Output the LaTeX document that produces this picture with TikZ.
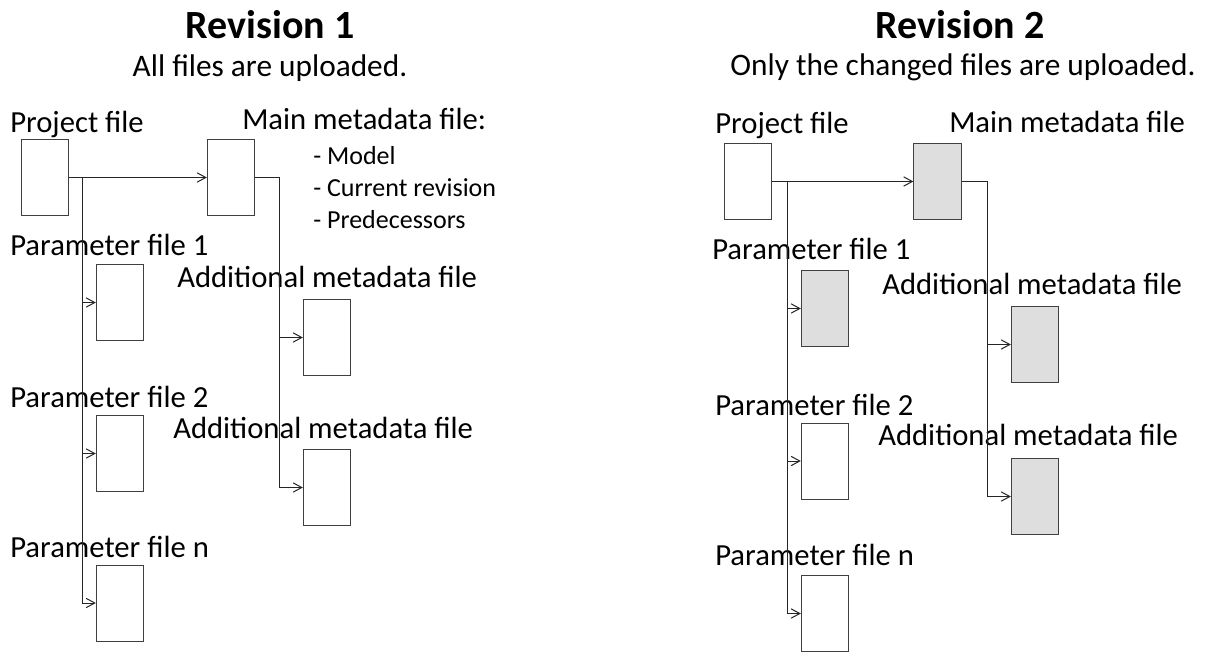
\documentclass[tikz,border=0pt]{standalone}
\usepackage{fontspec}
\setmainfont{Carlito}
\usetikzlibrary{arrows.meta}

\tikzset{
  filebox/.style={draw=black!75, line width=0.75pt, minimum width=35.5pt, minimum height=57pt, inner sep=0pt},
  changed/.style={filebox, fill=black!13},
  link/.style={line width=0.75pt, draw=black!85, -{Straight Barb[length=6.5pt,width=7pt]}},
  lbl/.style={anchor=base west, inner sep=0pt, font=\fontsize{23}{27}\selectfont},
  item/.style={anchor=base west, inner sep=0pt, font=\fontsize{19.5}{23}\selectfont},
  title/.style={anchor=base, inner sep=0pt, font=\fontsize{30}{35}\selectfont\bfseries},
  subtitle/.style={anchor=base, inner sep=0pt, font=\fontsize{23.5}{28}\selectfont}
}

\begin{document}
\begin{tikzpicture}[x=0.75pt,y=-0.75pt]
  \useasboundingbox (0,0) rectangle (1207,654);
  % Revision 1: everything uploaded
  \begin{scope}
    \node[title] (l-title) at (270,38) {Revision 1};
    \node[subtitle] (l-sub) at (270,76) {All files are uploaded.};
    \node[lbl] (l-projlbl) at (10,132) {Project file};
    \node[lbl] (l-mainlbl) at (242,129) {Main metadata file:};
    \node[item] (l-it1) at (313,164) {- Model};
    \node[item] (l-it2) at (313,196) {- Current revision};
    \node[item] (l-it3) at (313,228) {- Predecessors};
    \node[filebox] (l-proj) at (45,177.5) {};
    \node[filebox] (l-main) at (231,177.5) {};
    \foreach \p/\y in {1/302.5,2/453.5,n/603} {
      \node[filebox] (l-p\p) at (120,\y) {};
    }
    \node[lbl] (l-p1lbl) at (10,255) {Parameter file 1};
    \node[lbl] (l-p2lbl) at (10,407) {Parameter file 2};
    \node[lbl] (l-pnlbl) at (10,557) {Parameter file n};
    \node[filebox] (l-a1) at (327,337.5) {};
    \node[filebox] (l-a2) at (327,487.5) {};
    \node[lbl] (l-a1lbl) at (177,287) {Additional metadata file};
    \node[lbl] (l-a2lbl) at (173,438) {Additional metadata file};
    \coordinate (l-split) at (82,177.5);
    \coordinate (l-drop) at (279,177.5);
    \draw[link] (l-proj) -- (l-main);
    \foreach \p in {1,2,n} {
      \draw[link] (l-split) |- (l-p\p);
    }
    \draw[link] (l-main) -- (l-drop) |- (l-a1);
    \draw[link] (l-drop) |- (l-a2);
  \end{scope}
  % Revision 2: only the changed ones (grey)
  \begin{scope}
    \node[title] (r-title) at (960,38) {Revision 2};
    \node[subtitle] (r-sub) at (963,75) {Only the changed files are uploaded.};
    \node[lbl] (r-projlbl) at (715,133) {Project file};
    \node[lbl] (r-mainlbl) at (949,132) {Main metadata file};
    \node[filebox] (r-proj) at (748,181.5) {};
    \node[changed] (r-main) at (937.5,181.5) {};
    \node[changed] (r-p1) at (825,308.5) {};
    \node[filebox] (r-p2) at (825,461) {};
    \node[filebox] (r-pn) at (825,613.5) {};
    \node[lbl] (r-p1lbl) at (712,259) {Parameter file 1};
    \node[lbl] (r-p2lbl) at (715,415) {Parameter file 2};
    \node[lbl] (r-pnlbl) at (715,565) {Parameter file n};
    \node[changed] (r-a1) at (1035,344.5) {};
    \node[changed] (r-a2) at (1035,496.5) {};
    \node[lbl] (r-a1lbl) at (882,294) {Additional metadata file};
    \node[lbl] (r-a2lbl) at (878,445) {Additional metadata file};
    \coordinate (r-split) at (787,181.5);
    \coordinate (r-drop) at (987,181.5);
    \draw[link] (r-proj) -- (r-main);
    \foreach \p in {1,2,n} {
      \draw[link] (r-split) |- (r-p\p);
    }
    \draw[link] (r-main) -- (r-drop) |- (r-a1);
    \draw[link] (r-drop) |- (r-a2);
  \end{scope}
\end{tikzpicture}
\end{document}
